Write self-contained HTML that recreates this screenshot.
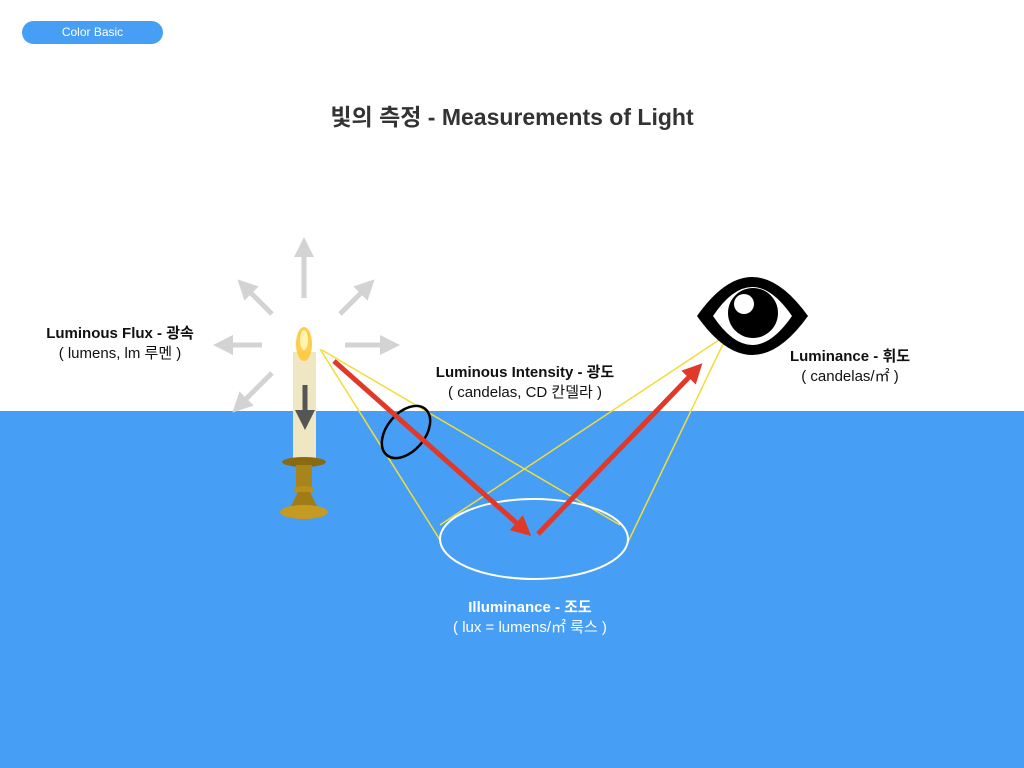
<!DOCTYPE html>
<html><head><meta charset="utf-8"><style>
body{margin:0;width:1024px;height:768px;overflow:hidden;background:#fff;font-family:"Liberation Sans","Noto Sans CJK KR",sans-serif;position:relative}
.blue{position:absolute;left:0;top:411px;width:1024px;height:357px;background:#479ef5}
.t{position:absolute;text-align:center;white-space:nowrap;color:#111;font-size:15px;line-height:20px}
.b{font-weight:bold}
</style></head><body>
<div class="blue"></div>
<div style="position:absolute;left:22px;top:21px;width:141px;height:23px;border-radius:12px;background:#479ef5;color:#fff;font-size:12px;line-height:23px;text-align:center">Color Basic</div>
<div class="t b" style="left:0;width:1024px;top:103px;font-size:23px;line-height:28px;color:#333">빛의 측정 - Measurements of Light</div>
<svg width="1024" height="768" style="position:absolute;left:0;top:0">
<defs>
<marker id="g" markerWidth="4" markerHeight="4" refX="1" refY="2" orient="auto"><path d="M0,0L4,2L0,4z" fill="#d3d3d3"/></marker>
<marker id="r" markerWidth="4" markerHeight="4" refX="1" refY="2" orient="auto"><path d="M0,0L4,2L0,4z" fill="#e0392a"/></marker>
<marker id="d" markerWidth="4" markerHeight="4" refX="1" refY="2" orient="auto"><path d="M0,0L4,2L0,4z" fill="#555"/></marker>
</defs>
<g stroke="#d3d3d3" stroke-width="5" marker-end="url(#g)">
<line x1="304" y1="298" x2="304" y2="252"/>
<line x1="272" y1="314" x2="248" y2="290"/>
<line x1="340" y1="314" x2="364" y2="290"/>
<line x1="262" y1="345" x2="228" y2="345"/>
<line x1="345" y1="345" x2="385" y2="345"/>
<line x1="272" y1="373" x2="243" y2="402"/>
</g>
<g stroke="#f2dc3a" stroke-width="1.5" fill="none">
<line x1="320" y1="349" x2="440" y2="540"/>
<line x1="322" y1="350" x2="620" y2="525"/>
<line x1="722" y1="338" x2="440" y2="525"/>
<line x1="724" y1="342" x2="628" y2="542"/>
</g>
<ellipse cx="534" cy="539" rx="94" ry="40" fill="none" stroke="#fff" stroke-width="2"/>
<ellipse cx="406" cy="432" rx="30" ry="19" transform="rotate(-50 406 432)" fill="none" stroke="#000" stroke-width="2.5"/>
<rect x="293" y="352" width="23" height="110" fill="#efe6c4"/>
<ellipse cx="304" cy="344" rx="8" ry="17" fill="#ffc83a" opacity=".9"/>
<ellipse cx="304" cy="340" rx="4" ry="10" fill="#fff3b0"/>
<line x1="305" y1="385" x2="305" y2="415" stroke="#555" stroke-width="5" marker-end="url(#d)"/>
<ellipse cx="304" cy="462" rx="22" ry="5" fill="#8a6a10"/>
<rect x="296" y="465" width="16" height="22" fill="#a8841c"/>
<ellipse cx="304" cy="490" rx="10" ry="4" fill="#b8901c"/>
<path d="M298,492 L310,492 L318,508 L290,508z" fill="#a07c18"/>
<ellipse cx="304" cy="512" rx="24" ry="7" fill="#c49a22"/>
<g stroke="#e0392a" stroke-width="5" marker-end="url(#r)">
<line x1="334" y1="361" x2="520" y2="526"/>
<line x1="538" y1="534" x2="692" y2="374"/>
</g>
<path d="M697,316 Q752,238 808,316 Q752,394 697,316z" fill="#000"/>
<path d="M713,316 Q752,258 792,316 Q752,374 713,316z" fill="#fff"/>
<circle cx="753" cy="313" r="25" fill="#000"/>
<circle cx="744" cy="304" r="10" fill="#fff"/>
</svg>
<div class="t" style="left:25px;width:190px;top:324px"><span class="b">Luminous Flux - 광속</span><br>( lumens, lm 루멘 )</div>
<div class="t" style="left:410px;width:230px;top:363px"><span class="b">Luminous Intensity - 광도</span><br>( candelas, CD 칸델라 )</div>
<div class="t" style="left:780px;width:140px;top:347px"><span class="b">Luminance - 휘도</span><br>( candelas/㎡ )</div>
<div class="t" style="left:420px;width:220px;top:598px;color:#fff"><span class="b">Illuminance - 조도</span><br>( lux = lumens/㎡ 룩스 )</div>
</body></html>
